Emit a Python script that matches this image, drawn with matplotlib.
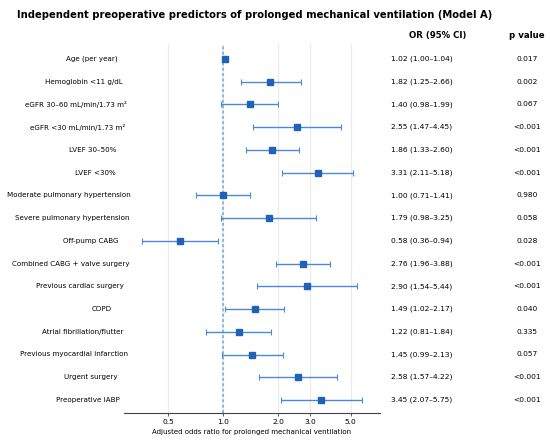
import numpy as np
import matplotlib
matplotlib.use('Agg')
import matplotlib.pyplot as plt
from matplotlib.ticker import FixedLocator, NullLocator

plt.rcParams['font.family'] = ['DejaVu Sans']

W, H = 550, 444

labels = ['Age (per year)', 'Hemoglobin <11 g/dL', 'eGFR 30\u201360 mL/min/1.73 m\u00b2',
          'eGFR <30 mL/min/1.73 m\u00b2', 'LVEF 30\u201350%', 'LVEF <30%',
          'Moderate pulmonary hypertension', 'Severe pulmonary hypertension',
          'Off-pump CABG', 'Combined CABG + valve surgery', 'Previous cardiac surgery',
          'COPD', 'Atrial fibrillation/flutter', 'Previous myocardial infarction',
          'Urgent surgery', 'Preoperative IABP']
odds = [1.02, 1.82, 1.40, 2.55, 1.86, 3.31, 1.00, 1.79, 0.58, 2.76, 2.90, 1.49, 1.22, 1.45, 2.58, 3.45]
ci_low = [1.00, 1.25, 0.98, 1.47, 1.33, 2.11, 0.71, 0.98, 0.36, 1.96, 1.54, 1.02, 0.81, 0.99, 1.57, 2.07]
ci_high = [1.04, 2.66, 1.99, 4.45, 2.60, 5.18, 1.41, 3.25, 0.94, 3.88, 5.44, 2.17, 1.84, 2.13, 4.22, 5.75]
p_values = ['0.017', '0.002', '0.067', '<0.001', '<0.001', '<0.001', '0.980', '0.058',
            '0.028', '<0.001', '<0.001', '0.040', '0.335', '0.057', '<0.001', '<0.001']
x_ticks = [0.5, 1.0, 2.0, 3.0, 5.0]

marker_col = '#1f62b7'
bar_col = '#4a8ad4'
ref_col = '#6fa8dc'

fig = plt.figure(figsize=(W / 100, H / 100), dpi=100)
fig.patch.set_facecolor('white')
ax = fig.add_axes([124 / W, 1 - 413 / H, (380 - 124) / W, (413 - 44) / H])

n = len(labels)
y = np.arange(n)
odds_a = np.array(odds)
err = np.vstack([odds_a - np.array(ci_low), np.array(ci_high) - odds_a])

ax.set_xscale('log')
ax.set_xlim(0.287, 7.25)
ax.set_ylim(n - 1 + 0.57, -0.66)
ax.xaxis.set_major_locator(FixedLocator(x_ticks))
ax.xaxis.set_minor_locator(NullLocator())
ax.set_xticklabels(['%.1f' % t for t in x_ticks])
ax.set_yticks([])
ax.grid(axis='x', color='#ebebeb', linewidth=0.8)
ax.set_axisbelow(True)
for s in ['left', 'right', 'top']:
    ax.spines[s].set_visible(False)
ax.spines['bottom'].set_color('#444444')
ax.spines['bottom'].set_linewidth(0.8)
ax.tick_params(axis='x', labelsize=5.4, length=2.5, width=0.6, color='#444444', pad=2)

# reference line at OR = 1
ax.axvline(1.0, color=ref_col, linestyle=(0, (2, 1.5)), linewidth=1.1, zorder=1)
ax.errorbar(odds_a, y, xerr=err, fmt='none', ecolor=bar_col, elinewidth=1.0,
            capsize=2.2, capthick=0.8, zorder=2)
ax.plot(odds_a, y, 's', color=marker_col, markersize=4.3, zorder=3)
ax.set_xlabel('Adjusted odds ratio for prolonged mechanical ventilation', fontsize=5.0, labelpad=2.5)

fig.text(17 / W, 1 - 15 / H, 'Independent preoperative predictors of prolonged mechanical ventilation (Model A)',
         fontsize=7.2, fontweight='bold', ha='left', va='center')
fig.text(438 / W, 1 - 38 / H, 'OR (95% CI)', fontsize=6.2, fontweight='bold', ha='center', va='baseline')
fig.text(527 / W, 1 - 38 / H, 'p value', fontsize=6.2, fontweight='bold', ha='center', va='baseline')

# row labels, values and p values
renderer = fig.canvas.get_renderer()
for i in range(n):
    yp = 59 + 22.73 * i
    t = fig.text(0, 1 - yp / H, labels[i], fontsize=5.1, ha='left', va='center')
    w = t.get_window_extent(renderer).width
    t.set_x((107.6 - 0.81 * w) / W)
    fig.text(422 / W, 1 - yp / H, '%.2f (%.2f\u2013%.2f)' % (odds[i], ci_low[i], ci_high[i]),
             fontsize=5.4, ha='center', va='center')
    fig.text(527 / W, 1 - yp / H, p_values[i], fontsize=5.4, ha='center', va='center')

fig.savefig('out.png', dpi=100, facecolor='white')
